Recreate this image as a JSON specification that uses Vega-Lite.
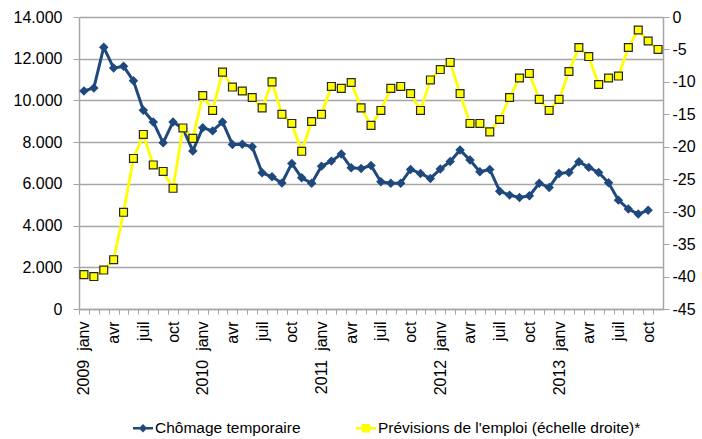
{
  "$schema": "https://vega.github.io/schema/vega-lite/v6.json",
  "width": 584,
  "height": 292,
  "autosize": {"type": "none"},
  "padding": {"left": 79, "top": 17, "right": 39, "bottom": 130},
  "background": "white",
  "config": {
    "font": "Liberation Sans",
    "view": {"stroke": null},
    "axis": {"labelFont": "Liberation Sans", "labelColor": "#000000", "labelFontSize": 16, "titleFont": "Liberation Sans"},
    "legend": {"labelFont": "Liberation Sans"}
  },
  "data": {
    "values": [
      {"m": "2009-01", "c": 10450, "p": -39.7},
      {"m": "2009-02", "c": 10600, "p": -40.0},
      {"m": "2009-03", "c": 12550, "p": -39.0},
      {"m": "2009-04", "c": 11550, "p": -37.4},
      {"m": "2009-05", "c": 11640, "p": -30.1},
      {"m": "2009-06", "c": 10940, "p": -21.8},
      {"m": "2009-07", "c": 9530, "p": -18.1},
      {"m": "2009-08", "c": 8970, "p": -22.8},
      {"m": "2009-09", "c": 7970, "p": -23.8},
      {"m": "2009-10", "c": 8970, "p": -26.4},
      {"m": "2009-11", "c": 8650, "p": -17.1},
      {"m": "2009-12", "c": 7580, "p": -18.7},
      {"m": "2010-01", "c": 8690, "p": -12.1},
      {"m": "2010-02", "c": 8540, "p": -14.4},
      {"m": "2010-03", "c": 8970, "p": -8.5},
      {"m": "2010-04", "c": 7890, "p": -10.8},
      {"m": "2010-05", "c": 7900, "p": -11.4},
      {"m": "2010-06", "c": 7780, "p": -12.4},
      {"m": "2010-07", "c": 6530, "p": -14.0},
      {"m": "2010-08", "c": 6340, "p": -10.0},
      {"m": "2010-09", "c": 6040, "p": -15.0},
      {"m": "2010-10", "c": 6980, "p": -16.4},
      {"m": "2010-11", "c": 6290, "p": -20.7},
      {"m": "2010-12", "c": 6030, "p": -16.1},
      {"m": "2011-01", "c": 6850, "p": -15.0},
      {"m": "2011-02", "c": 7090, "p": -10.7},
      {"m": "2011-03", "c": 7430, "p": -11.0},
      {"m": "2011-04", "c": 6770, "p": -10.1},
      {"m": "2011-05", "c": 6740, "p": -14.0},
      {"m": "2011-06", "c": 6880, "p": -16.7},
      {"m": "2011-07", "c": 6100, "p": -14.4},
      {"m": "2011-08", "c": 6030, "p": -11.0},
      {"m": "2011-09", "c": 6030, "p": -10.7},
      {"m": "2011-10", "c": 6690, "p": -11.8},
      {"m": "2011-11", "c": 6500, "p": -14.4},
      {"m": "2011-12", "c": 6260, "p": -9.7},
      {"m": "2012-01", "c": 6710, "p": -8.1},
      {"m": "2012-02", "c": 7070, "p": -7.0},
      {"m": "2012-03", "c": 7620, "p": -11.8},
      {"m": "2012-04", "c": 7140, "p": -16.4},
      {"m": "2012-05", "c": 6580, "p": -16.4},
      {"m": "2012-06", "c": 6690, "p": -17.7},
      {"m": "2012-07", "c": 5650, "p": -15.8},
      {"m": "2012-08", "c": 5460, "p": -12.4},
      {"m": "2012-09", "c": 5350, "p": -9.4},
      {"m": "2012-10", "c": 5430, "p": -8.7},
      {"m": "2012-11", "c": 6030, "p": -12.7},
      {"m": "2012-12", "c": 5830, "p": -14.4},
      {"m": "2013-01", "c": 6500, "p": -12.7},
      {"m": "2013-02", "c": 6550, "p": -8.4},
      {"m": "2013-03", "c": 7060, "p": -4.7},
      {"m": "2013-04", "c": 6790, "p": -6.1},
      {"m": "2013-05", "c": 6550, "p": -10.4},
      {"m": "2013-06", "c": 6050, "p": -9.4},
      {"m": "2013-07", "c": 5220, "p": -9.1},
      {"m": "2013-08", "c": 4790, "p": -4.7},
      {"m": "2013-09", "c": 4550, "p": -2.0},
      {"m": "2013-10", "c": 4740, "p": -3.7},
      {"m": "2013-11", "c": null, "p": -5.0}
    ]
  },
  "encoding": {
    "x": {
      "field": "m",
      "type": "ordinal",
      "scale": {"type": "point", "padding": 0.5},
      "axis": {
        "title": null,
        "labelAngle": 270,
        "labelOverlap": false,
        "labelExpr": "slice(datum.value,5)=='01' ? slice(datum.value,0,4)+'\u00a0\u00a0janv' : slice(datum.value,5)=='04' ? 'avr' : slice(datum.value,5)=='07' ? 'juil' : slice(datum.value,5)=='10' ? 'oct' : ''",
        "tickOffset": -4.95,
        "labelOffset": 4.95,
        "tickSize": 5,
        "labelPadding": 7,
        "domainColor": "#A6A6A6",
        "tickColor": "#A6A6A6",
        "domainWidth": 1.5,
        "grid": false
      }
    }
  },
  "layer": [
    {
      "encoding": {
        "y": {
          "field": "c",
          "type": "quantitative",
          "scale": {"domain": [0, 14000], "nice": false},
          "axis": {
            "orient": "left",
            "title": null,
            "values": [0, 2000, 4000, 6000, 8000, 10000, 12000, 14000],
            "labelExpr": "replace(format(datum.value, ','), ',', '.')",
            "grid": true,
            "gridColor": "#A6A6A6",
            "gridWidth": 1.3,
            "domainColor": "#A6A6A6",
            "domainWidth": 1.5,
            "tickColor": "#A6A6A6",
            "tickSize": 6,
            "labelPadding": 11
          }
        }
      },
      "layer": [
        {"mark": {"type": "line", "stroke": "#1F497D", "strokeWidth": 3}},
        {"mark": {"type": "point", "shape": "diamond", "filled": true, "fill": "#1F497D", "size": 90, "opacity": 1, "strokeWidth": 0}}
      ]
    },
    {
      "encoding": {
        "y": {
          "field": "p",
          "type": "quantitative",
          "scale": {"domain": [-45, 0], "nice": false},
          "axis": {
            "orient": "right",
            "title": null,
            "values": [-45, -40, -35, -30, -25, -20, -15, -10, -5, 0],
            "labelExpr": "'' + datum.value",
            "grid": false,
            "domainColor": "#A6A6A6",
            "domainWidth": 1.5,
            "tickColor": "#A6A6A6",
            "tickSize": 6,
            "labelPadding": 3
          }
        }
      },
      "layer": [
        {"mark": {"type": "line", "stroke": "#FFFF00", "strokeWidth": 2.8}},
        {"mark": {"type": "point", "shape": "square", "filled": true, "fill": "#FFFF00", "stroke": "#262626", "strokeWidth": 1.2, "size": 62, "opacity": 1}}
      ]
    },
    {
      "data": {"values": [{"s": "Chômage temporaire"}, {"s": "Prévisions de l'emploi (échelle droite)*"}]},
      "transform": [{"filter": "false"}],
      "mark": {"type": "point", "filled": true, "opacity": 1},
      "encoding": {
        "x": {"value": 0},
        "y": {"value": 0},
        "color": {
          "field": "s",
          "type": "nominal",
          "scale": {"domain": ["Chômage temporaire", "Prévisions de l'emploi (échelle droite)*"], "range": ["#1F497D", "#FFFF00"]},
          "legend": {
            "title": null,
            "orient": "none",
            "legendX": 54,
            "legendY": 401,
            "direction": "horizontal",
            "symbolSize": 400,
            "symbolStrokeWidth": 0,
            "labelFontSize": 15.5,
            "labelColor": "#000000",
            "labelOffset": 2,
            "labelLimit": 0,
            "columnPadding": 55
          }
        },
        "shape": {
          "field": "s",
          "type": "nominal",
          "scale": {"domain": ["Chômage temporaire", "Prévisions de l'emploi (échelle droite)*"], "range": ["M-1,-0.12H1V0.12H-1ZM0,-0.42L0.42,0L0,0.42L-0.42,0Z", "M-1,-0.13H1V0.13H-1ZM-0.42,-0.42H0.42V0.42H-0.42Z"]},
          "legend": {
            "title": null,
            "orient": "none",
            "legendX": 54,
            "legendY": 401,
            "direction": "horizontal",
            "symbolSize": 400,
            "symbolStrokeWidth": 0,
            "labelFontSize": 15.5,
            "labelColor": "#000000",
            "labelOffset": 2,
            "labelLimit": 0,
            "columnPadding": 55
          }
        }
      }
    }
  ],
  "resolve": {"scale": {"y": "independent"}}
}
